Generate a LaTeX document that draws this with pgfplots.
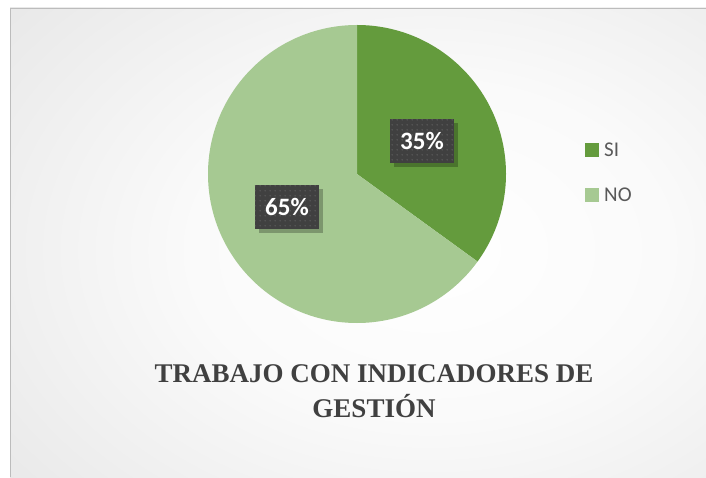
\documentclass[border=0pt]{standalone}
\usepackage{fontspec}
\usepackage{pgfplots}
\usepackage{pgfplotstable}
\pgfplotsset{compat=1.18}
\usetikzlibrary{patterns,shadows}
\setmainfont{Carlito}
\newfontfamily\titlefont{Liberation Serif}
\definecolor{SIcol}{RGB}{100,155,61}
\definecolor{NOcol}{RGB}{166,201,146}
\definecolor{lblbg}{RGB}{64,64,64}
\definecolor{dotc}{RGB}{90,90,90}
\definecolor{legtxt}{RGB}{89,89,89}
\definecolor{titc}{RGB}{64,64,64}
\definecolor{bgedge}{RGB}{188,188,188}
\pgfdeclareradialshading{bgshade}{\pgfpoint{0bp}{0bp}}{color(0bp)=(white); color(12bp)=(white!98!black); color(50bp)=(white!81!black); color(72bp)=(white!75!black)}
\pgfdeclarepatternformonly{mydots}{\pgfpointorigin}{\pgfpoint{4.7pt}{4.7pt}}{\pgfpoint{4.7pt}{4.7pt}}{\pgfpathcircle{\pgfpoint{2.35pt}{2.35pt}}{0.8pt}\pgfusepath{fill}}
\pgfplotstableread{
label value
SI 35
NO 65
}\piedata
\pgfplotstablegetelem{0}{value}\of\piedata\edef\vSI{\pgfplotsretval}%
\pgfplotstablegetelem{1}{value}\of\piedata\edef\vNO{\pgfplotsretval}%
\tikzset{lbl/.style={fill=lblbg, minimum width=64pt, minimum height=44pt, inner sep=0pt,
  text=white, font=\bfseries\fontsize{25}{30}\selectfont,
  drop shadow={shadow xshift=4pt, shadow yshift=-4pt, opacity=0.25, fill=black},
  postaction={pattern=mydots, pattern color=dotc}}}
\begin{document}
\begin{tikzpicture}[x=1pt,y=1pt]
\fill[white] (0,0) rectangle (706,477);
\begin{scope}
\clip (10,0) rectangle (706,469);
\shade[shading=bgshade] (-70,-123) rectangle (930,577);
\end{scope}
\draw[bgedge, line width=1pt] (10.5,0) -- (10.5,468.5) -- (706,468.5);
\begin{axis}[
  at={(357pt,303pt)}, anchor=origin,
  x=149pt, y=149pt, xmin=-1, xmax=1, ymin=-1, ymax=1,
  hide axis, clip=false,
]
\fill[SIcol] (axis cs:0,0) -- (axis cs:0,1) arc[start angle=90, delta angle={-3.6*\vSI}, radius=149pt] -- cycle;
\fill[NOcol] (axis cs:0,0) -- (axis cs:0,1) arc[start angle=90, delta angle={3.6*\vNO}, radius=149pt] -- cycle;
\node[lbl] at (axis cs:0.436,0.221) {\vSI\%};
\node[lbl] at (axis cs:-0.470,-0.221) {\vNO\%};
\end{axis}
% legend
\fill[SIcol] (585,320) rectangle (599,334);
\fill[NOcol] (585,275) rectangle (599,289);
\node[anchor=base west, inner sep=0pt, font=\fontsize{21}{25}\selectfont, text=legtxt] at (604,320) {SI};
\node[anchor=base west, inner sep=0pt, font=\fontsize{21}{25}\selectfont, text=legtxt] at (604,275) {NO};
% title
\node[anchor=base, font=\titlefont\bfseries\fontsize{27}{32}\selectfont, text=titc] at (374,95) {TRABAJO CON INDICADORES DE};
\node[anchor=base, font=\titlefont\bfseries\fontsize{27}{32}\selectfont, text=titc] at (374,60) {GESTIÓN};
\pgfresetboundingbox
\useasboundingbox (0,0) rectangle (706,477);
\end{tikzpicture}
\end{document}
